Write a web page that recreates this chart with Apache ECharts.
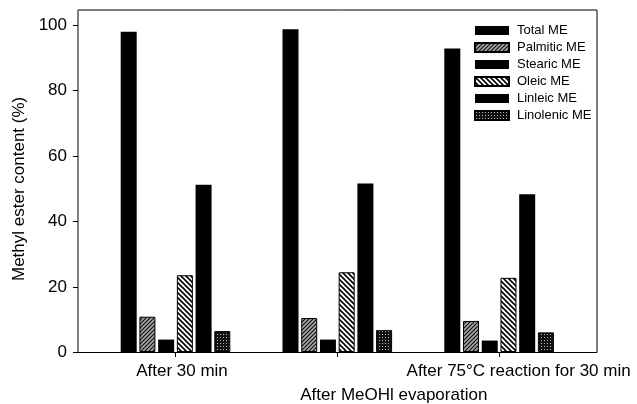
<!DOCTYPE html>
<html><head><meta charset="utf-8">
<script src="https://cdn.jsdelivr.net/npm/echarts@6/dist/echarts.min.js"></script>
<style>html,body{margin:0;padding:0;background:#fff}#c{width:637px;height:404px}</style>
</head><body><div id="c"></div>
<script>
// ---- data ----
const categories = ['After 30 min', 'After MeOHl evaporation', 'After 75°C reaction for 30 min'];
const seriesNames = ['Total ME', 'Palmitic ME', 'Stearic ME', 'Oleic ME', 'Linleic ME', 'Linolenic ME'];
const totalME = [98.0, 98.8, 92.9];
const palmiticME = [10.8, 10.4, 9.5];
const stearicME = [3.8, 3.8, 3.5];
const oleicME = [23.5, 24.4, 22.7];
const linleicME = [51.2, 51.6, 48.3];
const linolenicME = [6.4, 6.7, 6.0];
const yMin = 0, yMax = 100, yStep = 20;

// ---- patterns ----
function hatch(size, bg, fg, lw, dir) {
  const c = document.createElement('canvas');
  c.width = size; c.height = size;
  const g = c.getContext('2d');
  g.fillStyle = bg; g.fillRect(0, 0, size, size);
  g.strokeStyle = fg; g.lineWidth = lw;
  g.beginPath();
  if (dir === '/') {
    g.moveTo(0, size); g.lineTo(size, 0);
    g.moveTo(-size / 2, size / 2); g.lineTo(size / 2, -size / 2);
    g.moveTo(size / 2, size * 1.5); g.lineTo(size * 1.5, size / 2);
  } else {
    g.moveTo(0, 0); g.lineTo(size, size);
    g.moveTo(-size / 2, size / 2); g.lineTo(size / 2, size * 1.5);
    g.moveTo(size / 2, -size / 2); g.lineTo(size * 1.5, size / 2);
  }
  g.stroke();
  return { image: c, repeat: 'repeat' };
}
function dots() {
  const c = document.createElement('canvas');
  c.width = 3; c.height = 3;
  const g = c.getContext('2d');
  g.fillStyle = '#111'; g.fillRect(0, 0, 3, 3);
  g.fillStyle = '#bbb'; g.fillRect(1, 1, 1, 1);
  return { image: c, repeat: 'repeat' };
}
const FONT = '"Liberation Sans", Arial, Helvetica, sans-serif';
const styles = [
  { color: '#000' },
  { color: hatch(4, '#a8a8a8', '#111', 1.2, '/'), borderColor: '#000', borderWidth: 1 },
  { color: '#000' },
  { color: hatch(5, '#fff', '#000', 1.6, '\\'), borderColor: '#000', borderWidth: 1 },
  { color: '#000' },
  { color: dots(), borderColor: '#000', borderWidth: 1 }
];
const values = [totalME, palmiticME, stearicME, oleicME, linleicME, linolenicME];

const chart = echarts.init(document.getElementById('c'), null, { renderer: 'canvas' });
chart.setOption({
  animation: false,
  backgroundColor: '#fff',
  textStyle: { fontFamily: FONT, color: '#000' },
  grid: [
    { left: 78, right: 40, top: 10, bottom: 51.5, show: true, borderColor: '#000', borderWidth: 1, backgroundColor: 'transparent' },
    { left: 78, right: 40, top: 25.3, bottom: 51.5 },
    { left: 94.6, right: 57, top: 25.3, bottom: 51.5 }
  ],
  legend: {
    orient: 'vertical', left: 469, top: 19,
    itemWidth: 34, itemHeight: 9, itemGap: 4,
    icon: 'rect',
    textStyle: { fontFamily: FONT, fontSize: 13, color: '#000', padding: [0, 0, 0, 3] },
    data: seriesNames
  },
  xAxis: [
    { gridIndex: 0, type: 'value', show: false },
    { gridIndex: 1, type: 'category', data: categories, show: false },
    {
      gridIndex: 2, type: 'category', data: categories,
      axisLine: { show: false },
      axisTick: { show: true, alignWithLabel: true, length: 5, interval: 0, lineStyle: { color: '#000' } },
      axisLabel: {
        interval: 0, margin: 11, color: '#000', fontFamily: FONT, fontSize: 17,
        formatter: (v, i) => (i === 0 ? '{a|' : i === 1 ? '{b|' : '{c|') + v + '}',
        rich: {
          a: { fontFamily: FONT, fontSize: 17, padding: [0, 0, 0, 13] },
          b: { fontFamily: FONT, fontSize: 17, padding: [24, 0, 0, 113] },
          c: { fontFamily: FONT, fontSize: 17, padding: [0, 0, 0, 39] }
        }
      }
    }
  ],
  yAxis: [
    { gridIndex: 0, type: 'value', show: false },
    {
      gridIndex: 1, type: 'value', min: yMin, max: yMax, interval: yStep,
      axisLine: { show: false },
      axisTick: { show: true, length: 5, lineStyle: { color: '#000' } },
      splitLine: { show: false },
      axisLabel: { margin: 11, color: '#000', fontFamily: FONT, fontSize: 17 },
      name: 'Methyl ester content (%)', nameLocation: 'middle', nameGap: 46, nameRotate: 90,
      nameTextStyle: { fontFamily: FONT, fontSize: 17, color: '#000' }
    },
    { gridIndex: 2, type: 'value', min: yMin, max: yMax, show: false }
  ],
  series: seriesNames.map((n, k) => ({
    name: n, type: 'bar', xAxisIndex: 2, yAxisIndex: 2,
    barWidth: 16, barGap: '17%',
    itemStyle: styles[k],
    data: values[k]
  }))
});
</script>
</body></html>
